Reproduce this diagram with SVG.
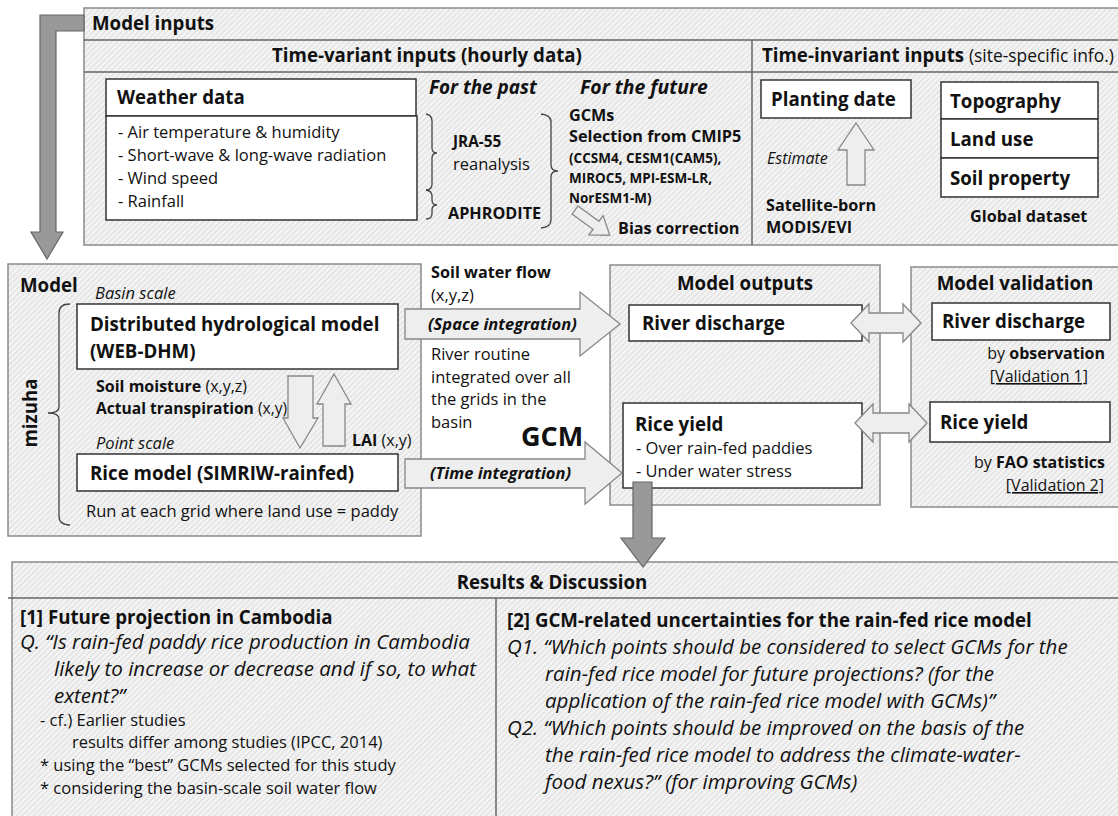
<svg xmlns="http://www.w3.org/2000/svg" width="1118" height="816" viewBox="0 0 1118 816">
<defs>
<pattern id="hatch" patternUnits="userSpaceOnUse" width="4" height="4" patternTransform="rotate(45)">
<rect width="4" height="4" fill="#f3f3f3"/>
<line x1="0" y1="0" x2="0" y2="4" stroke="#cfcfcf" stroke-width="1.2"/>
</pattern>
</defs>
<style>
text{font-family:"Open Sans",Lato,"Liberation Sans",sans-serif;fill:#111}
.panel{fill:url(#hatch);stroke:#8a8a8a;stroke-width:1.5}
.box{fill:#fff;stroke:#333;stroke-width:1.5}
.blk{fill:#eeeeee;stroke:#888;stroke-width:1.3}
.big{fill:#999;stroke:#666;stroke-width:1.2}
.brace{fill:none;stroke:#444;stroke-width:1.3}
.line{stroke:#666;stroke-width:1.5}
.b{font-weight:bold}
.i{font-style:italic}
.h19{font-size:18.7px;font-weight:bold}
.t16{font-size:16.5px}
.bs{font-size:16.2px;font-weight:bold}
.q{font-size:20.5px;font-style:italic}
</style>

<g id="model-inputs">
<rect class="panel" x="84" y="8" width="1040" height="237"/>
<line class="line" x1="84" y1="40" x2="1118" y2="40"/>
<line class="line" x1="84" y1="72" x2="1118" y2="72"/>
<line class="line" x1="752" y1="40" x2="752" y2="245"/>
<text x="92" y="30" class="h19">Model inputs</text>
<text x="427" y="62" class="h19" text-anchor="middle">Time-variant inputs (hourly data)</text>
<text x="762" y="62" class="h19">Time-invariant inputs <tspan font-weight="normal" font-size="17.4">(site-specific info.)</tspan></text>
</g>

<g id="weather-data">
<rect class="box" x="106" y="79" width="310" height="37"/>
<rect class="box" x="106" y="116" width="311" height="104"/>
<text x="117" y="104" class="h19">Weather data</text>
<text x="118" y="138" class="t16">- Air temperature &amp; humidity</text>
<text x="118" y="161" class="t16">- Short-wave  &amp; long-wave radiation</text>
<text x="118" y="184" class="t16">- Wind speed</text>
<text x="118" y="207" class="t16">- Rainfall</text>
</g>

<g id="past">
<text x="429" y="94" class="b i" font-size="18.9">For the past</text>
<path class="brace" d="M426,114 Q432,115 432,121 L432,148 Q432,153 437,153 Q432,153 432,158 L432,184 Q432,190 426,190"/>
<path class="brace" d="M426,190 Q432,191 432,196 L432,200 Q432,205 437,205 Q432,205 432,210 L432,214 Q432,219 426,219"/>
<text x="453" y="147" class="b" font-size="15.3">JRA-55</text>
<text x="453" y="170" class="t16">reanalysis</text>
<text x="448" y="219" class="bs">APHRODITE</text>
</g>

<g id="future">
<path class="brace" d="M541,114 Q551,115 551,122 L551,165 Q551,171 558,171 Q551,171 551,177 L551,220 Q551,227 541,228"/>
<text x="580" y="94" class="b i" font-size="19.4">For the future</text>
<text x="569" y="121" class="bs">GCMs</text>
<text x="569" y="142" class="bs">Selection from CMIP5</text>
<text x="569" y="163" class="b" font-size="13.5">(CCSM4, CESM1(CAM5),</text>
<text x="569" y="183" class="b" font-size="13.5">MIROC5,  MPI-ESM-LR,</text>
<text x="569" y="203" class="b" font-size="13.5">NorESM1-M)</text>
<text x="618" y="234" class="bs">Bias correction</text>
</g>

<g id="planting-date">
<rect class="box" x="761" y="80" width="150" height="38"/>
<text x="771" y="106" class="h19" font-size="19">Planting date</text>
<text x="767" y="164" class="i" font-size="16" fill="#222">Estimate</text>
<text x="766" y="211" class="bs">Satellite-born</text>
<text x="766" y="233" class="bs">MODIS/EVI</text>
</g>

<g id="global-dataset">
<rect class="box" x="941" y="82" width="157" height="37"/>
<rect class="box" x="941" y="119" width="157" height="39"/>
<rect class="box" x="941" y="158" width="157" height="39"/>
<text x="950" y="108" class="h19">Topography</text>
<text x="950" y="146" class="h19">Land use</text>
<text x="950" y="185" class="h19">Soil property</text>
<text x="970" y="222" class="bs">Global dataset</text>
</g>

<g id="model">
<rect class="panel" x="8" y="264" width="413" height="272"/>
<text x="20" y="292" class="h19">Model</text>
<text x="95" y="299" class="i t16">Basin scale</text>
<text transform="translate(37,413) rotate(-90)" class="h19" text-anchor="middle">mizuha</text>
<path class="brace" d="M70,304 Q59,304 59,313 L59,407 Q59,413 48,413 Q59,413 59,419 L59,516 Q59,525 70,525"/>
<text x="96" y="392" class="b" font-size="16">Soil moisture <tspan font-weight="normal">(x,y,z)</tspan></text>
<text x="96" y="414" class="b" font-size="15.6">Actual transpiration <tspan font-weight="normal">(x,y)</tspan></text>
<text x="96" y="449" class="i t16">Point scale</text>
<text x="352" y="446" class="b" font-size="16">LAI <tspan font-weight="normal">(x,y)</tspan></text>
<text x="86" y="517" class="t16">Run at each grid where land use = paddy</text>
</g>

<g id="distributed-model">
<rect class="box" x="77" y="304" width="321" height="65"/>
<text x="90" y="331" class="h19">Distributed hydrological model</text>
<text x="90" y="358" class="h19">(WEB-DHM)</text>
</g>

<g id="rice-model">
<rect class="box" x="77" y="454" width="321" height="37"/>
<text x="90" y="480" class="h19">Rice model (SIMRIW-rainfed)</text>
</g>

<g id="model-outputs">
<rect class="panel" x="610" y="265" width="270" height="240"/>
<text x="745" y="290" class="h19" text-anchor="middle">Model outputs</text>
</g>

<g id="out-river-discharge">
<rect class="box" x="629" y="305" width="233" height="36"/>
<text x="642" y="330" class="h19">River discharge</text>
</g>

<g id="out-rice-yield">
<rect class="box" x="623" y="403" width="239" height="85"/>
<text x="635" y="431" class="h19">Rice yield</text>
<text x="636" y="454" class="t16">- Over rain-fed paddies</text>
<text x="636" y="477" class="t16">- Under  water stress</text>
</g>

<g id="model-validation">
<rect class="panel" x="911" y="267" width="215" height="240"/>
<text x="1015" y="290" class="h19" text-anchor="middle">Model validation</text>
<text x="1105" y="359" font-size="16" text-anchor="end">by <tspan font-weight="bold">observation</tspan></text>
<text x="1088" y="382" font-size="16" text-anchor="end" text-decoration="underline">[Validation 1]</text>
<text x="1105" y="468" font-size="16" text-anchor="end">by <tspan font-weight="bold">FAO statistics</tspan></text>
<text x="1104" y="491" font-size="16" text-anchor="end" text-decoration="underline">[Validation 2]</text>
</g>

<g id="val-river-discharge">
<rect class="box" x="932" y="303" width="178" height="37"/>
<text x="942" y="328" class="h19">River discharge</text>
</g>

<g id="val-rice-yield">
<rect class="box" x="930" y="402" width="180" height="40"/>
<text x="940" y="429" class="h19">Rice yield</text>
</g>

<g id="results">
<rect class="panel" x="12" y="562" width="1112" height="260"/>
<line class="line" x1="8" y1="598" x2="1118" y2="598"/>
<line class="line" x1="496" y1="598" x2="496" y2="816"/>
<text x="552" y="589" class="h19" text-anchor="middle">Results &amp; Discussion</text>
<text x="20" y="624" class="h19">[1] Future projection in Cambodia</text>
<text x="20" y="649" class="q">Q. “Is rain-fed paddy rice production in Cambodia</text>
<text x="54" y="676" class="q">likely to increase or decrease and if so, to what</text>
<text x="54" y="703" class="q">extent?”</text>
<text x="40" y="726" class="t16">- cf.) Earlier studies</text>
<text x="72" y="748" class="t16">results differ among studies (IPCC, 2014)</text>
<text x="40" y="771" class="t16">* using the “best” GCMs selected for this study</text>
<text x="40" y="794" class="t16">* considering the  basin-scale soil water flow</text>
<text x="507" y="627" class="h19">[2] GCM-related uncertainties for the rain-fed rice model</text>
<text x="507" y="654" class="q">Q1. “Which points should be considered to select GCMs for the</text>
<text x="545" y="681" class="q">rain-fed rice model for future projections? (for the</text>
<text x="545" y="708" class="q">application of the rain-fed rice model with GCMs)”</text>
<text x="507" y="735" class="q">Q2. “Which points should be improved on the basis of the</text>
<text x="545" y="762" class="q">the rain-fed rice model to address the climate-water-</text>
<text x="545" y="789" class="q">food nexus?” (for improving GCMs)</text>
</g>

<g id="connectors">
<path class="big" d="M84,15 L84,31 L56,31 L56,232 L63,232 L47,259 L31,232 L40,232 L40,15 Z"/>
<path class="blk" transform="translate(575,210) rotate(36)" d="M0,-5 L26,-5 L26,-12 L43,0 L26,12 L26,5 L0,5 Z"/>
<path class="blk" d="M856,123 L874,150 L865,150 L865,185 L847,185 L847,150 L838,150 Z"/>
<path class="blk" d="M288,376 L313,376 L313,418 L318,418 L300,448 L283,418 L288,418 Z"/>
<path class="blk" d="M334,374 L351,404 L345,404 L345,446 L323,446 L323,404 L317,404 Z"/>
<path class="blk" d="M405,309 L580,309 L580,292 L620,324 L580,356 L580,339 L405,339 Z"/>
<path class="blk" d="M405,459 L585,459 L585,442 L622,473 L585,504 L585,488 L405,488 Z"/>
<path class="blk" d="M851,323 L869,304 L869,313 L903,313 L903,304 L921,323 L903,342 L903,333 L869,333 L869,342 Z"/>
<path class="blk" d="M855,423 L873,404 L873,413 L909,413 L909,404 L927,423 L909,442 L909,433 L873,433 L873,442 Z"/>
<path class="big" d="M633,482 L652,482 L652,538 L665,538 L643,567 L621,538 L633,538 Z"/>
</g>

<g id="connector-labels">
<text x="431" y="278" class="bs">Soil water flow</text>
<text x="431" y="301" class="t16">(x,y,z)</text>
<text x="428" y="330" class="b i" font-size="16.5">(Space  integration)</text>
<text x="431" y="360" class="t16">River routine</text>
<text x="431" y="383" class="t16">integrated over all</text>
<text x="431" y="405" class="t16">the grids in the</text>
<text x="431" y="428" class="t16">basin</text>
<text x="521" y="446" class="b" font-size="27">GCM</text>
<text x="430" y="479" class="b i" font-size="16.5">(Time integration)</text>
</g>
</svg>
